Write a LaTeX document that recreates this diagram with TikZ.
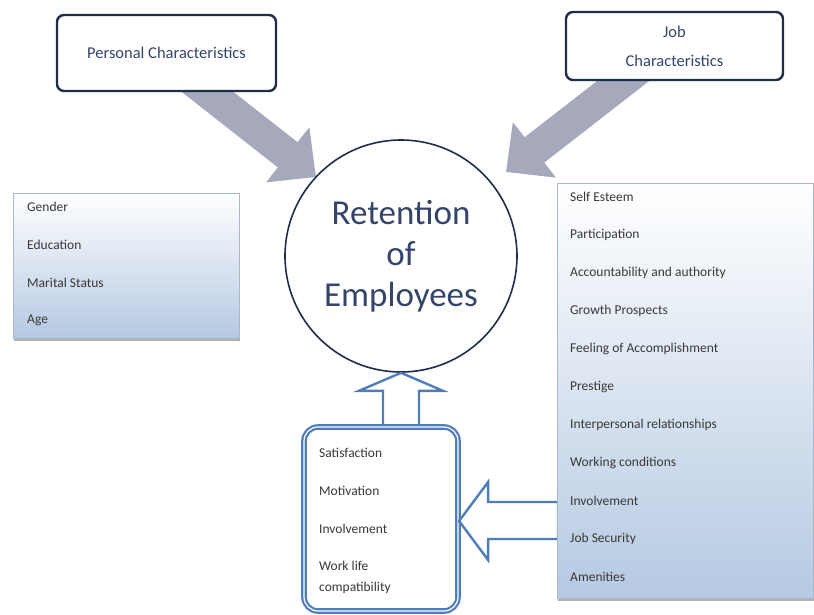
\documentclass[tikz,border=0pt]{standalone}
\usepackage{fontspec}
\setmainfont{Carlito}
\usetikzlibrary{arrows.meta,shadows}
\definecolor{navy}{HTML}{1F2D4A}
\definecolor{slate}{HTML}{34446A}
\definecolor{greyarr}{HTML}{A5A9BB}
\definecolor{boxblue}{HTML}{B5C9E2}
\definecolor{lineblue}{HTML}{4F7DB9}
\definecolor{listline}{HTML}{A9B7C9}
\definecolor{itemtext}{HTML}{383838}
\begin{document}
\begin{tikzpicture}[x=1pt,y=-1pt,font=\fontsize{13.5}{15}\selectfont,
 headbox/.style={draw=navy,line width=2.4pt,rounded corners=7pt,fill=white,text=slate,
  font=\fontsize{16.5}{19}\selectfont,align=center},
 listbox/.style={draw=listline,line width=0.8pt,top color=white,bottom color=boxblue,
  drop shadow={shadow xshift=0.5pt,shadow yshift=-2.5pt,opacity=0.55,fill=black!55}},
 item/.style={anchor=west,text=itemtext,inner sep=0pt},
 greyarrow/.style={draw=greyarr,line width=32pt,-{Triangle[length=36pt 0,width=68pt 0]}},
 bluearrow/.style={draw=lineblue,line width=2.4pt,fill=white,line join=miter}]
 \useasboundingbox (0,0) rectangle (814,614);
 \coordinate (ptip) at (316,177);
 \coordinate (jtip) at (506,172);
 \coordinate (pfoot) at (186,75);
 \coordinate (jfoot) at (645,64);
 \draw[greyarrow] (pfoot) -- (ptip);
 \draw[greyarrow] (jfoot) -- (jtip);
 % boxes on top
 \node[headbox,minimum width=219pt,minimum height=76pt] (pc) at (166.5,53) {Personal Characteristics};
 \node[headbox,minimum width=217pt,minimum height=68pt] (jc) at (674.5,46) {Job\\[10pt]Characteristics};
 \node[circle,draw=navy,line width=1.6pt,fill=white,minimum size=232pt,text=slate,
  align=center,font=\fontsize{35}{41}\selectfont] (ret) at (401,256) {Retention\\of\\Employees};
 \node[listbox,minimum width=226pt,minimum height=145pt] (pclist) at (126,265.5) {};
 \foreach \t [count=\i] in {Gender,Education,Marital Status,Age}
  \node[item] (pc-\i) at (27,{207+37.7*(\i-1)}) {\t};
 % outcomes
 \draw[bluearrow,shift={(ret.south)}] (0,0) -- (42,18) -- (18,18) -- (18,53)
  -- (-18,53) -- (-18,18) -- (-42,18) -- cycle;
 \node[draw=lineblue,double=white,line width=2.2pt,double distance=1.2pt,rounded corners=14pt,
  fill=white,minimum width=154pt,minimum height=184pt] (mid) at (381,519) {};
 \draw[bluearrow,shift={(mid.east)}] (0,2) -- (29,-37) -- (29,-17) -- (99,-17)
  -- (99,20) -- (29,20) -- (29,41) -- cycle;
 \foreach \t [count=\i] in {Satisfaction,Motivation,Involvement}
  \node[item] (mid-\i) at (319,{453+38*(\i-1)}) {\t};
 \node[item,align=left,font=\fontsize{13.5}{21}\selectfont] (mid-4) at (319,577) {Work life\\compatibility};
 \node[listbox,minimum width=256pt,minimum height=415pt] (jclist) at (685,390.5) {};
 \foreach \t [count=\i] in {Self Esteem,Participation,Accountability and authority,Growth Prospects,
  Feeling of Accomplishment,Prestige,Interpersonal relationships,Working conditions,
  Involvement,Job Security,Amenities}
  \node[item] (jc-\i) at (570,{197+38*(\i-1)}) {\t};
\end{tikzpicture}
\end{document}
